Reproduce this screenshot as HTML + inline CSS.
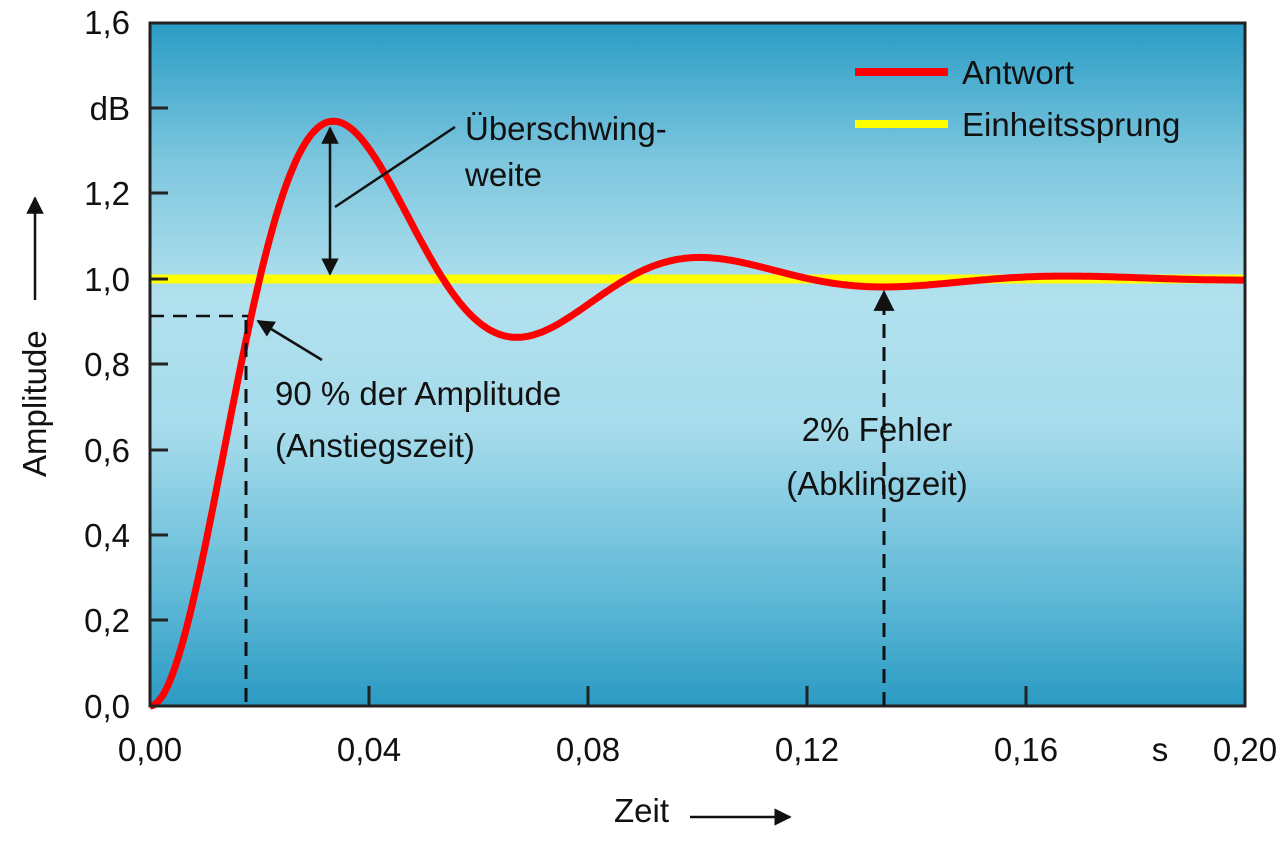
<!DOCTYPE html>
<html><head><meta charset="utf-8"><style>
body{margin:0;background:#fff;}
svg text{font-family:"Liberation Sans",Arial,sans-serif;fill:#111;}
</style></head><body>
<svg width="1280" height="840" viewBox="0 0 1280 840" xmlns="http://www.w3.org/2000/svg">
<defs>
<linearGradient id="bg" x1="0" y1="0" x2="0" y2="1">
<stop offset="0" stop-color="#2a9cc5"/>
<stop offset="0.2" stop-color="#7cc6de"/>
<stop offset="0.4" stop-color="#b2e1ee"/>
<stop offset="0.6" stop-color="#a5dbeb"/>
<stop offset="0.85" stop-color="#5cb7d6"/>
<stop offset="1" stop-color="#2b9ac3"/>
</linearGradient>
<marker id="ah" viewBox="0 0 10 10" refX="9" refY="5" markerWidth="7" markerHeight="7" orient="auto-start-reverse"><path d="M0,0 L10,5 L0,10 z" fill="#111"/></marker>
</defs>
<rect x="150" y="23" width="1095" height="683" fill="url(#bg)"/>
<line x1="150" y1="279" x2="1245" y2="279" stroke="#ffff00" stroke-width="9"/>
<path id="resp" fill="none" stroke="#ff0000" stroke-width="7" stroke-linejoin="round"/>
<rect x="150" y="23" width="1095" height="683" fill="none" stroke="#222" stroke-width="3"/>
<g stroke="#222" stroke-width="3">
<line x1="150" y1="108" x2="168" y2="108"/><line x1="150" y1="193" x2="168" y2="193"/>
<line x1="150" y1="279" x2="168" y2="279"/><line x1="150" y1="364" x2="168" y2="364"/>
<line x1="150" y1="450" x2="168" y2="450"/><line x1="150" y1="535" x2="168" y2="535"/>
<line x1="150" y1="620" x2="168" y2="620"/>
<line x1="369" y1="706" x2="369" y2="686"/><line x1="588" y1="706" x2="588" y2="686"/>
<line x1="807" y1="706" x2="807" y2="686"/><line x1="1026" y1="706" x2="1026" y2="686"/>
</g>
<g font-size="33" text-anchor="end">
<text x="130" y="34">1,6</text><text x="130" y="120">dB</text><text x="130" y="205">1,2</text>
<text x="130" y="291">1,0</text><text x="130" y="376">0,8</text><text x="130" y="462">0,6</text>
<text x="130" y="547">0,4</text><text x="130" y="632">0,2</text><text x="130" y="718">0,0</text>
</g>
<g font-size="33" text-anchor="middle">
<text x="150" y="761">0,00</text><text x="369" y="761">0,04</text><text x="588" y="761">0,08</text>
<text x="807" y="761">0,12</text><text x="1026" y="761">0,16</text><text x="1160" y="761">s</text><text x="1245" y="761">0,20</text>
</g>
<text x="614" y="822" font-size="33">Zeit</text>
<line x1="690" y1="817" x2="790" y2="817" stroke="#111" stroke-width="2.5" marker-end="url(#ah)"/>
<text transform="translate(46,477) rotate(-90)" font-size="33">Amplitude</text>
<line x1="35" y1="300" x2="35" y2="198" stroke="#111" stroke-width="2.5" marker-end="url(#ah)"/>
<line x1="855" y1="72" x2="948" y2="72" stroke="#ff0000" stroke-width="8"/>
<text x="962" y="84" font-size="33">Antwort</text>
<line x1="855" y1="124" x2="948" y2="124" stroke="#ffff00" stroke-width="8"/>
<text x="962" y="136" font-size="33">Einheitssprung</text>
<line x1="330" y1="128" x2="330" y2="274" stroke="#111" stroke-width="2.5" marker-start="url(#ah)" marker-end="url(#ah)"/>
<line x1="335" y1="207" x2="455" y2="127" stroke="#111" stroke-width="2.5"/>
<text x="465" y="140" font-size="33">Überschwing-</text>
<text x="465" y="186" font-size="33">weite</text>
<line x1="150" y1="316" x2="248" y2="316" stroke="#111" stroke-width="2.5" stroke-dasharray="14,9"/>
<line x1="246" y1="320" x2="246" y2="706" stroke="#111" stroke-width="3" stroke-dasharray="14,9"/>
<line x1="322" y1="360" x2="258" y2="321" stroke="#111" stroke-width="2.5" marker-end="url(#ah)"/>
<text x="275" y="405" font-size="33">90 % der Amplitude</text>
<text x="275" y="457" font-size="33">(Anstiegszeit)</text>
<line x1="884" y1="706" x2="884" y2="292" stroke="#111" stroke-width="3" stroke-dasharray="14,9" marker-end="url(#ah)"/>
<text x="877" y="441" font-size="33" text-anchor="middle">2% Fehler</text>
<text x="877" y="495" font-size="33" text-anchor="middle">(Abklingzeit)</text>
</svg>
<script>
(function(){
var z=0.302,wd=2*Math.PI/0.067,wn=wd/Math.sqrt(1-z*z),phi=Math.acos(z),d="";
for(var i=0;i<=400;i++){var t=0.2*i/400;
var v=1-Math.exp(-z*wn*t)/Math.sqrt(1-z*z)*Math.sin(wd*t+phi);
var x=150+t*5475,y=706-v*427;d+=(i?"L":"M")+x.toFixed(1)+","+y.toFixed(1);}
document.getElementById("resp").setAttribute("d",d);
})();
</script>
</body></html>
